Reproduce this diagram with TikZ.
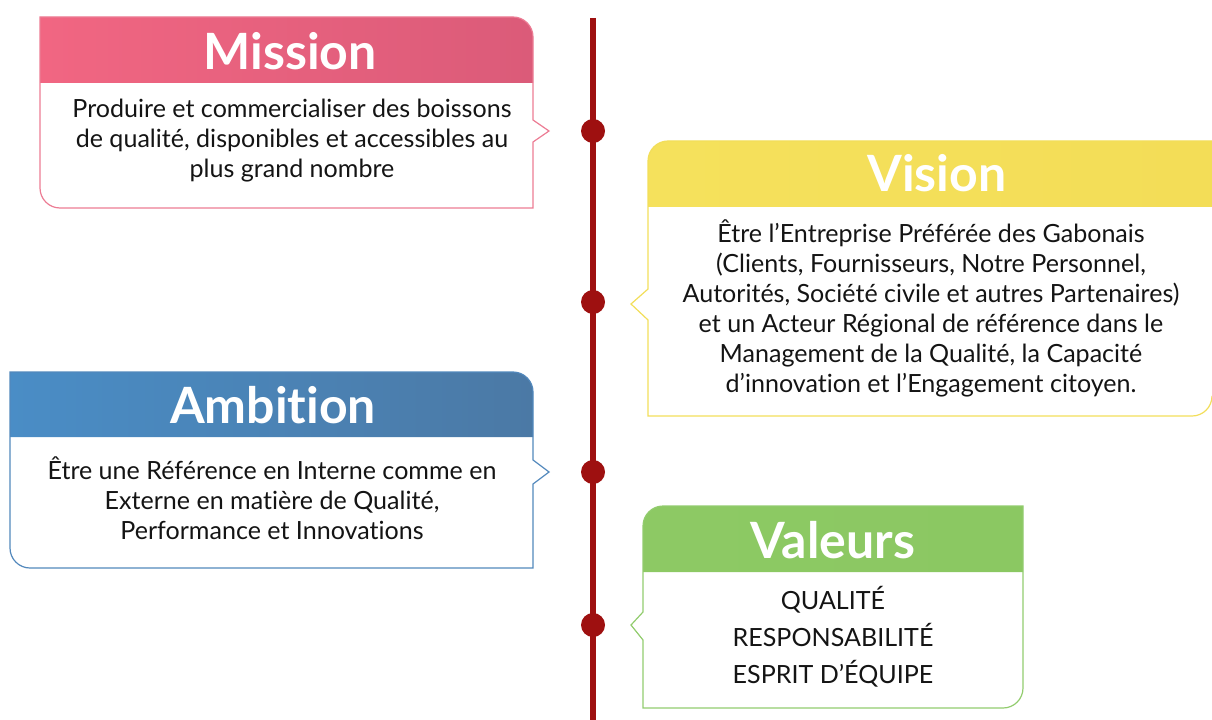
\documentclass[tikz,border=0pt]{standalone}
\usepackage{fontspec}
\setmainfont{Lato}[Ligatures={NoCommon}]
\definecolor{tline}{HTML}{9E1010}
\definecolor{pinkL}{HTML}{F16682}
\definecolor{pinkR}{HTML}{DB5B79}
\definecolor{pinkB}{HTML}{EC7C94}
\definecolor{yelL}{HTML}{F5E15C}
\definecolor{yelR}{HTML}{F3DD57}
\definecolor{yelB}{HTML}{F2DE5A}
\definecolor{bluL}{HTML}{4A8DC6}
\definecolor{bluR}{HTML}{4B79A5}
\definecolor{bluB}{HTML}{5288BC}
\definecolor{grnL}{HTML}{8DC964}
\definecolor{grnR}{HTML}{8BC862}
\definecolor{grnB}{HTML}{92CC6E}
\definecolor{txt}{HTML}{141414}
\tikzset{
  head/.style={text=white,font=\fontsize{37.5}{42}\selectfont\bfseries,anchor=base,inner sep=0pt},
  body/.style={text=txt,font=\fontsize{18.8}{22.5}\selectfont,align=center,inner sep=0pt},
  dot/.style={circle,fill=tline,minimum size=18pt,inner sep=0pt},
  frame/.style={line width=0.9pt}
}
\begin{document}
\begin{tikzpicture}[x=0.75pt,y=-0.75pt]
\useasboundingbox (0,0) rectangle (1212,720);
% timeline
\draw[tline,line width=3.8pt] (593,18) -- (593,720);
\node[dot] (d1) at (593,131) {};
\node[dot] (d2) at (593,302) {};
\node[dot] (d3) at (593,472) {};
\node[dot] (d4) at (593,625) {};
% Mission
\shade[left color=pinkL,right color=pinkR] (40,83) -- (40,17) -- (513,17) arc[start angle=270,end angle=360,radius=20] -- (533,83) -- cycle;
\draw[pinkB,frame] (40,17) -- (513,17) arc[start angle=270,end angle=360,radius=20] -- (533,120) -- (549,131) -- (533,142) -- (533,208) -- (60,208) arc[start angle=90,end angle=180,radius=20] -- cycle;
\node[head] (mh) at (290,70) {Mission};
\node[body] (mt) at (292,141) {Produire et commercialiser des boissons\\de qualité, disponibles et accessibles au\\plus grand nombre};
% Vision
\shade[left color=yelL,right color=yelR] (648,207) -- (648,161) arc[start angle=180,end angle=270,radius=20] -- (1212,141) -- (1212,207) -- cycle;
\draw[yelB,frame] (1212,141) -- (668,141) arc[start angle=270,end angle=180,radius=20] -- (648,289) -- (631,304) -- (648,320) -- (648,416) -- (1192,416) arc[start angle=90,end angle=0,radius=20];
\node[head] (vh) at (937,192) {Vision};
\node[body] (vt) at (931,308) {Être l’Entreprise Préférée des Gabonais\\(Clients, Fournisseurs, Notre Personnel,\\Autorités, Société civile et autres Partenaires)\\et un Acteur Régional de référence dans le\\Management de la Qualité, la Capacité\\d’innovation et l’Engagement citoyen.};
% Ambition
\shade[left color=bluL,right color=bluR] (10,437) -- (10,372) -- (513,372) arc[start angle=270,end angle=360,radius=20] -- (533,437) -- cycle;
\draw[bluB,frame] (10,372) -- (513,372) arc[start angle=270,end angle=360,radius=20] -- (533,460) -- (549,472) -- (533,484) -- (533,568) -- (30,568) arc[start angle=90,end angle=180,radius=20] -- cycle;
\node[head] (ah) at (273,423) {Ambition};
\node[body] (at) at (272,498) {Être une Référence en Interne comme en\\Externe en matière de Qualité,\\Performance et Innovations};
% Valeurs
\shade[left color=grnL,right color=grnR] (643,572) -- (643,526) arc[start angle=180,end angle=270,radius=20] -- (1023,506) -- (1023,572) -- cycle;
\draw[grnB,frame] (1023,506) -- (663,506) arc[start angle=270,end angle=180,radius=20] -- (643,612) -- (631,625) -- (643,640) -- (643,708) -- (1003,708) arc[start angle=90,end angle=0,radius=20] -- cycle;
\node[head] (gh) at (833,558) {Valeurs};
\node[body,font=\fontsize{18.8}{27.75}\selectfont] (gt) at (833,637) {QUALITÉ\\RESPONSABILITÉ\\ESPRIT D’ÉQUIPE};
\end{tikzpicture}
\end{document}
